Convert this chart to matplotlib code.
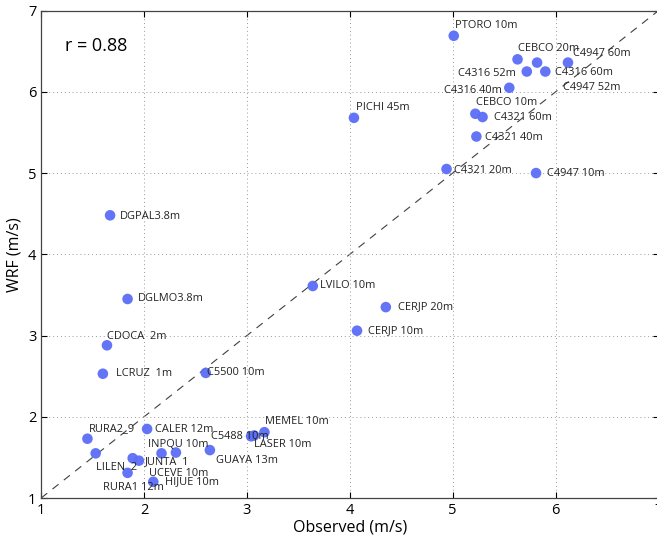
import numpy as np
import matplotlib
matplotlib.use('Agg')
import matplotlib.pyplot as plt

plt.rcParams['font.family'] = ['Open Sans', 'DejaVu Sans']

# station names, observed and WRF wind speed (m/s)
names = ['PTORO 10m', 'CEBCO 20m', 'C4947 60m', 'C4316 60m', 'C4316 52m', 'C4947 52m',
         'C4316 40m', 'CEBCO 10m', 'C4321 60m', 'C4321 40m', 'C4321 20m', 'C4947 10m',
         'PICHI 45m', 'DGPAL3.8m', 'DGLMO3.8m', 'LVILO 10m', 'CERJP 20m', 'CERJP 10m',
         'CDOCA  2m', 'LCRUZ  1m', 'C5500 10m', 'RURA2_9', 'LILEN  2', 'CALER 12m',
         'UCEVE 10m', 'JUNTA  1', 'INPQU 10m', '', 'RURA1 12m', 'HIJUE 10m',
         'GUAYA 13m', 'C5488 10m', 'LASER 10m', 'MEMEL 10m']
obs = [5.01, 5.63, 6.12, 5.82, 5.72, 5.90,
       5.55, 5.22, 5.29, 5.23, 4.94, 5.81,
       4.04, 1.67, 1.84, 3.64, 4.35, 4.07,
       1.64, 1.60, 2.60, 1.45, 1.53, 2.03,
       1.89, 1.95, 2.17, 2.31, 1.84, 2.09,
       2.64, 3.04, 3.07, 3.17]
wrf = [6.69, 6.40, 6.36, 6.36, 6.25, 6.25,
       6.05, 5.73, 5.69, 5.45, 5.05, 5.00,
       5.68, 4.48, 3.45, 3.61, 3.35, 3.06,
       2.88, 2.53, 2.54, 1.73, 1.55, 1.85,
       1.49, 1.46, 1.55, 1.56, 1.31, 1.20,
       1.59, 1.76, 1.77, 1.81]
r_value = 0.88

# label offsets in pixels (dx right, dy down, alignment)
offsets = [(1, -10, 'left'), (0, -11, 'left'), (5, -9, 'left'), (18, 10, 'left'),
           (-11, 2, 'right'), (18, 16, 'left'), (-7, 3, 'right'), (1, -11, 'left'),
           (11, 0, 'left'), (9, 1, 'left'), (7, 1, 'left'), (11, 0, 'left'),
           (2, -10, 'left'), (10, 1, 'left'), (10, 0, 'left'), (7, 0, 'left'),
           (12, 0, 'left'), (11, 0, 'left'), (0, -9, 'left'), (13, 0, 'left'),
           (1, 0, 'left'), (1, -10, 'left'), (0, 14, 'left'), (8, 1, 'left'),
           (16, 15, 'left'), (6, 1, 'left'), (-14, -9, 'left'), (0, 0, 'left'),
           (-25, 15, 'left'), (12, 0, 'left'), (6, 10, 'left'), (-40, 0, 'left'),
           (0, 9, 'left'), (1, -11, 'left')]

fig = plt.figure(figsize=(6.57, 5.38), dpi=100)
ax = fig.add_axes([0.0626, 0.0743, 0.9397, 0.906])

ax.plot([1, 7], [1, 7], color='#404040', ls=(0, (7, 6)), lw=0.8, zorder=1)
ax.scatter(obs, wrf, s=58, color='#5b6ef6', edgecolors='none', alpha=0.95, zorder=3)

for n, x, y, (dx, dy, ha) in zip(names, obs, wrf, offsets):
    if n:
        ax.annotate(n, (x, y), xytext=(dx, -dy), textcoords='offset pixels',
                    ha=ha, va='center', fontsize=7.9, color='#222222', zorder=4)

ax.text(0.038, 0.928, 'r = %.2f' % r_value, transform=ax.transAxes, fontsize=13,
        ha='left', va='center')

ax.set_xlim(1, 7)
ax.set_ylim(1, 7)
ax.set_xticks(range(1, 8))
ax.set_yticks(range(1, 8))
ax.grid(True, ls=(0, (1, 3)), color='#999999', lw=0.7)
ax.tick_params(direction='in', top=True, right=True, labelsize=10.5, length=4)
for s in ax.spines.values():
    s.set_color('#444444')
    s.set_linewidth(0.9)
ax.set_xlabel('Observed (m/s)', fontsize=11.5, labelpad=1)
ax.set_ylabel('WRF (m/s)', fontsize=11.5, labelpad=4)

fig.savefig('out.png', dpi=100)
